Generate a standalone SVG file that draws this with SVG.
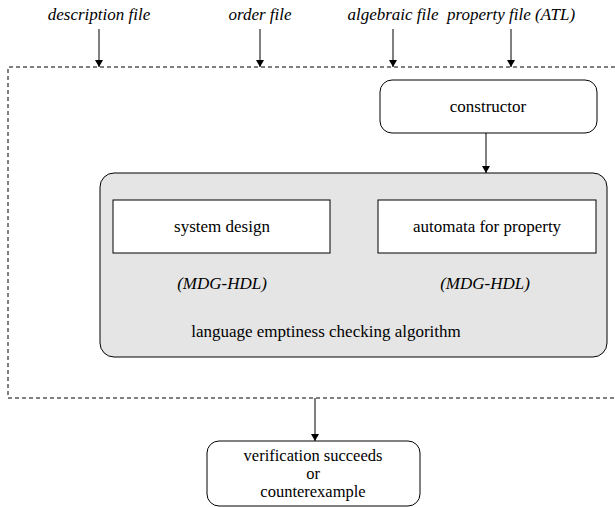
<svg xmlns="http://www.w3.org/2000/svg" width="615" height="507" viewBox="0 0 615 507">
<defs>
<marker id="ah" markerWidth="8" markerHeight="10" refX="7" refY="4" orient="auto" markerUnits="userSpaceOnUse">
<path d="M0,0 L7,4 L0,8 Z" fill="#000"/>
</marker>
<style>
text{font-family:"Liberation Serif","Times New Roman",serif;font-size:17px;fill:#000;text-anchor:middle}
.it{font-style:italic}
.sm{font-size:16.5px}
.box{fill:#fff;stroke:#000;stroke-width:1}
.conn{stroke:#000;stroke-width:1;fill:none;marker-end:url(#ah)}
</style>
</defs>
<rect width="615" height="507" fill="#fff"/>
<g id="labels">
<text class="it" x="99" y="20">description file</text>
<text class="it" x="260" y="20">order file</text>
<text class="it" x="393" y="20">algebraic file</text>
<text class="it" x="511" y="20">property file (ATL)</text>
</g>
<g id="frame">
<path d="M615,67 H8 V398 H615" fill="none" stroke="#000" stroke-width="1" stroke-dasharray="4,3"/>
</g>
<g id="constructor">
<rect class="box" x="380" y="80" width="217" height="53" rx="12"/>
<text x="488" y="112">constructor</text>
</g>
<g id="algorithm">
<rect x="100" y="173" width="507" height="184" rx="14" fill="#e5e5e5" stroke="#000"/>
<text x="326" y="337">language emptiness checking algorithm</text>
</g>
<g id="system">
<rect class="box" x="113" y="200" width="217" height="53"/>
<text x="222" y="232">system design</text>
<text class="it" x="222" y="289">(MDG-HDL)</text>
</g>
<g id="automata">
<rect class="box" x="378" y="200" width="218" height="53"/>
<text x="487" y="232">automata for property</text>
<text class="it" x="485" y="289">(MDG-HDL)</text>
</g>
<g id="result">
<rect class="box" x="207" y="441" width="213" height="65" rx="12"/>
<text class="sm" x="313" y="461">verification succeeds</text>
<text class="sm" x="313" y="479">or</text>
<text class="sm" x="313" y="497">counterexample</text>
</g>
<g id="connectors">
<line class="conn" x1="99" y1="29" x2="99" y2="67"/>
<line class="conn" x1="260" y1="29" x2="260" y2="67"/>
<line class="conn" x1="393" y1="29" x2="393" y2="67"/>
<line class="conn" x1="511" y1="29" x2="511" y2="67"/>
<line class="conn" x1="486" y1="133" x2="486" y2="173"/>
<line class="conn" x1="315" y1="398" x2="315" y2="441"/>
</g>
</svg>
